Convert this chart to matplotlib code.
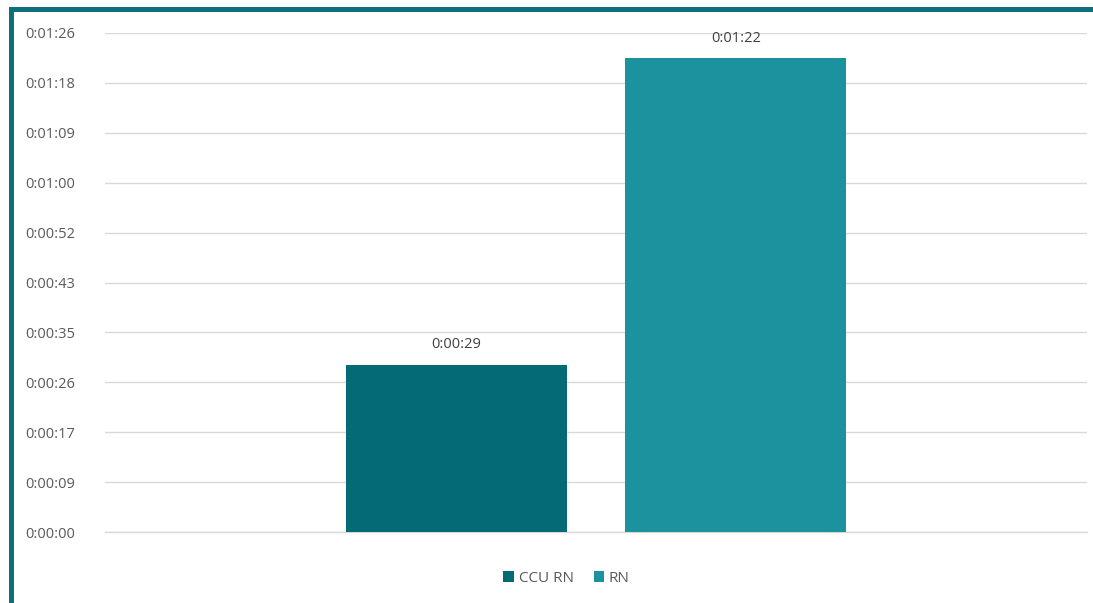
import matplotlib.pyplot as plt
from matplotlib.patches import Rectangle

plt.rcParams['font.family'] = ['Open Sans', 'DejaVu Sans']

# Data (seconds)
series = ['CCU RN', 'RN']
values = [29, 82]
colors = ['#036A76', '#1B929D']
ticks = [i * 8.64 for i in range(11)]  # Excel axis step of 0.0001 day


def hms(sec):
    s = int(round(sec))
    return f"{s // 3600}:{(s % 3600) // 60:02d}:{s % 60:02d}"


fig = plt.figure(figsize=(10.93, 6.03), dpi=100)
ax = fig.add_axes([0.0961, 0.1177, 0.8984, 0.8276])

width = 0.225
offsets = [-0.1425, 0.1425]
for name, val, col, off in zip(series, values, colors, offsets):
    ax.bar(off, val, width=width, color=col, label=name, zorder=3)
    ax.text(off, val + 2.2, hms(val), ha='center', va='bottom',
            fontsize=10.5, color='#404040')

ax.set_xlim(-0.5, 0.5)
ax.set_ylim(0, 86.4)
ax.set_yticks(ticks)
ax.set_yticklabels([hms(t) for t in ticks])
ax.set_xticks([])
for lbl in ax.get_yticklabels():
    lbl.set_horizontalalignment('left')
ax.tick_params(axis='y', length=0, pad=57.6, labelsize=10.5, labelcolor='#595959')
ax.grid(axis='y', color='#D9D9D9', linewidth=1, zorder=0)
ax.axhline(0, color='#D9D9D9', linewidth=1, zorder=0, clip_on=False)
for sp in ax.spines.values():
    sp.set_visible(False)

ax.legend(loc='upper center', bbox_to_anchor=(0.47, -0.05), ncol=2,
          frameon=False, fontsize=11, handlelength=0.7, handleheight=0.7,
          handletextpad=0.3, columnspacing=1.3, labelcolor='#595959')

# Outer frame (clipped on right and bottom)
fig.patches.append(Rectangle((10.5 / 1093, -0.1), 1.2, 1.1 - 8.5 / 603,
                             transform=fig.transFigure, fill=False,
                             edgecolor='#0E6F7A', linewidth=3.6))

fig.savefig('out.png', dpi=100)
